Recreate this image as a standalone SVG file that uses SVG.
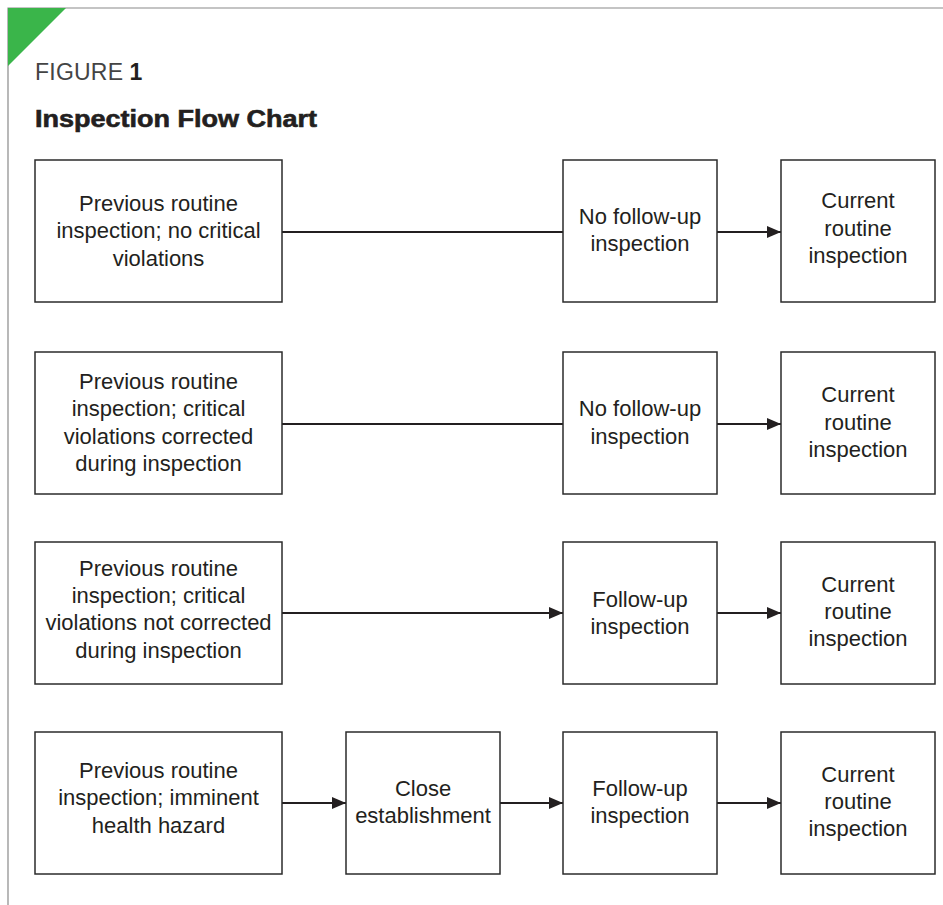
<svg xmlns="http://www.w3.org/2000/svg" width="943" height="905" viewBox="0 0 943 905">
<style>
.frame{fill:none;stroke:#8a8a8a;stroke-width:1.2}
.box{fill:#fff;stroke:#2b2b2b;stroke-width:1.5}
.t{font-family:"Liberation Sans",Arial,sans-serif;font-size:22px;fill:#231f20;text-anchor:middle}
.c{stroke:#231f20;stroke-width:2.2;fill:none}
</style>
<defs>
<marker id="ah" markerWidth="14" markerHeight="12" refX="14" refY="6" orient="auto" markerUnits="userSpaceOnUse">
<path d="M0,0 L14,6 L0,12 Z" fill="#231f20"/>
</marker>
</defs>
<rect width="943" height="905" fill="#fff"/>
<path class="frame" d="M8,905 L8,8 L943,8"/>
<path d="M8,8 L66,8 L8,66 Z" fill="#3ab54a"/>
<text x="35" y="80" font-family="Liberation Sans,Arial,sans-serif" font-size="23" fill="#444"><tspan font-weight="normal" textLength="88">FIGURE</tspan> <tspan font-weight="bold" fill="#231f20">1</tspan></text>
<text x="35" y="127" font-family="Liberation Sans,Arial,sans-serif" font-size="23" font-weight="bold" fill="#231f20" stroke="#231f20" stroke-width="0.6" textLength="282" lengthAdjust="spacingAndGlyphs">Inspection Flow Chart</text>

<g id="connectors">
<line class="c" x1="282" y1="232" x2="563" y2="232"/>
<line class="c" x1="717" y1="232" x2="781" y2="232" marker-end="url(#ah)"/>
<line class="c" x1="282" y1="424" x2="563" y2="424"/>
<line class="c" x1="717" y1="424" x2="781" y2="424" marker-end="url(#ah)"/>
<line class="c" x1="282" y1="613" x2="563" y2="613" marker-end="url(#ah)"/>
<line class="c" x1="717" y1="613" x2="781" y2="613" marker-end="url(#ah)"/>
<line class="c" x1="282" y1="803" x2="346" y2="803" marker-end="url(#ah)"/>
<line class="c" x1="500" y1="803" x2="563" y2="803" marker-end="url(#ah)"/>
<line class="c" x1="717" y1="803" x2="781" y2="803" marker-end="url(#ah)"/>
</g>

<g id="r1a"><rect class="box" x="35" y="160" width="247" height="142"/>
<text class="t" x="158.5" y="211">Previous routine</text><text class="t" x="158.5" y="238">inspection; no critical</text><text class="t" x="158.5" y="266">violations</text></g>
<g id="r1b"><rect class="box" x="563" y="160" width="154" height="142"/>
<text class="t" x="640" y="224">No follow-up</text><text class="t" x="640" y="251">inspection</text></g>
<g id="r1c"><rect class="box" x="781" y="160" width="154" height="142"/>
<text class="t" x="858" y="208">Current</text><text class="t" x="858" y="236">routine</text><text class="t" x="858" y="263">inspection</text></g>

<g id="r2a"><rect class="box" x="35" y="352" width="247" height="142"/>
<text class="t" x="158.5" y="389">Previous routine</text><text class="t" x="158.5" y="416">inspection; critical</text><text class="t" x="158.5" y="444">violations corrected</text><text class="t" x="158.5" y="471">during inspection</text></g>
<g id="r2b"><rect class="box" x="563" y="352" width="154" height="142"/>
<text class="t" x="640" y="416">No follow-up</text><text class="t" x="640" y="444">inspection</text></g>
<g id="r2c"><rect class="box" x="781" y="352" width="154" height="142"/>
<text class="t" x="858" y="402">Current</text><text class="t" x="858" y="430">routine</text><text class="t" x="858" y="457">inspection</text></g>

<g id="r3a"><rect class="box" x="35" y="542" width="247" height="142"/>
<text class="t" x="158.5" y="576">Previous routine</text><text class="t" x="158.5" y="603">inspection; critical</text><text class="t" x="158.5" y="630">violations not corrected</text><text class="t" x="158.5" y="658">during inspection</text></g>
<g id="r3b"><rect class="box" x="563" y="542" width="154" height="142"/>
<text class="t" x="640" y="607">Follow-up</text><text class="t" x="640" y="634">inspection</text></g>
<g id="r3c"><rect class="box" x="781" y="542" width="154" height="142"/>
<text class="t" x="858" y="592">Current</text><text class="t" x="858" y="619">routine</text><text class="t" x="858" y="646">inspection</text></g>

<g id="r4a"><rect class="box" x="35" y="732" width="247" height="142"/>
<text class="t" x="158.5" y="778">Previous routine</text><text class="t" x="158.5" y="805">inspection; imminent</text><text class="t" x="158.5" y="833">health hazard</text></g>
<g id="r4b"><rect class="box" x="346" y="732" width="154" height="142"/>
<text class="t" x="423" y="796">Close</text><text class="t" x="423" y="823">establishment</text></g>
<g id="r4c"><rect class="box" x="563" y="732" width="154" height="142"/>
<text class="t" x="640" y="796">Follow-up</text><text class="t" x="640" y="823">inspection</text></g>
<g id="r4d"><rect class="box" x="781" y="732" width="154" height="142"/>
<text class="t" x="858" y="782">Current</text><text class="t" x="858" y="809">routine</text><text class="t" x="858" y="836">inspection</text></g>
</svg>
